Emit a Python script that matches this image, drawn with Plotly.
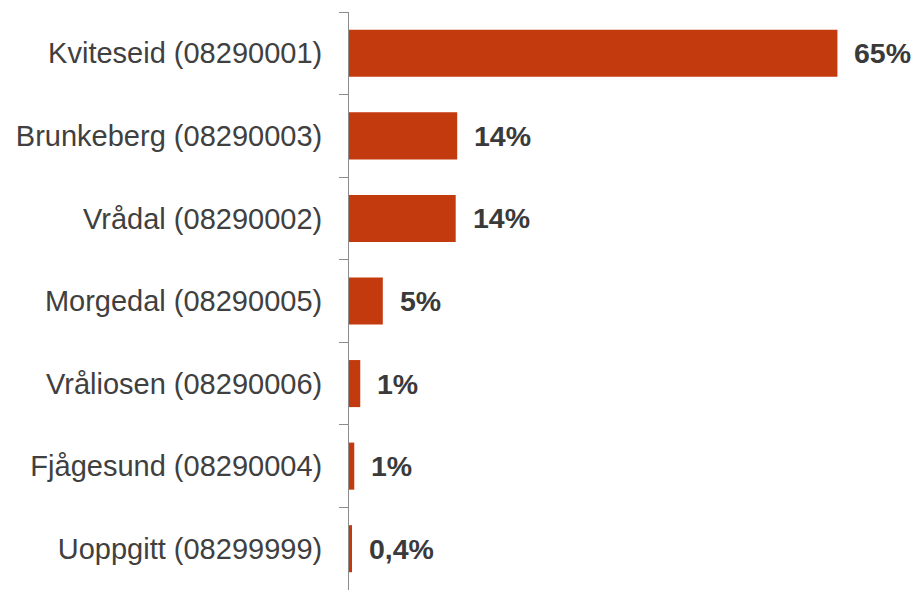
import plotly.graph_objects as go

categories = ["Kviteseid (08290001)", "Brunkeberg (08290003)", "Vrådal (08290002)",
              "Morgedal (08290005)", "Vråliosen (08290006)", "Fjågesund (08290004)",
              "Uoppgitt (08299999)"]
values = [65, 14.4, 14.2, 4.5, 1.5, 0.7, 0.4]
labels = ["65%", "14%", "14%", "5%", "1%", "1%", "0,4%"]

FONT = "Liberation Sans, Arial, sans-serif"

fig = go.Figure()
fig.add_trace(go.Bar(
    x=values, y=categories, orientation="h",
    marker=dict(color="#C43A0F", line=dict(width=0)),
    hoverinfo="skip",
))
for v, c, t in zip(values, categories, labels):
    fig.add_annotation(x=v, y=c, text=t, showarrow=False, xanchor="left",
                       xshift=15, font=dict(family=FONT, size=28.5,
                                            color="#3A3A3A", weight="bold"))

fig.update_layout(
    width=916, height=591,
    margin=dict(l=349, r=41, t=12, b=1),
    paper_bgcolor="white", plot_bgcolor="white",
    bargap=0.43, showlegend=False,
    font=dict(family=FONT, size=29, color="#404040"),
)
fig.update_xaxes(range=[0, 70], visible=False, showgrid=False, zeroline=False)
fig.update_yaxes(
    autorange="reversed", showline=True, linecolor="#8C8C8C", linewidth=1,
    ticks="outside", tickson="boundaries", ticklen=9, tickcolor="#8C8C8C",
    showgrid=False, ticklabelstandoff=20,
    tickfont=dict(family=FONT, size=29, color="#404040"),
)
fig.write_html("out.html", config={"displayModeBar": False, "staticPlot": True},
               post_script="document.body.style.margin='0';document.body.style.overflow='hidden';")
